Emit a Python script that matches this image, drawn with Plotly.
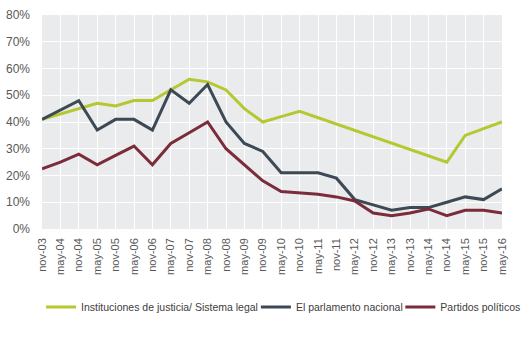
import plotly.graph_objects as go

categories = ["nov-03", "may-04", "nov-04", "may-05", "nov-05", "may-06", "nov-06",
              "may-07", "nov-07", "may-08", "nov-08", "may-09", "nov-09", "may-10",
              "nov-10", "may-11", "nov-11", "may-12", "nov-12", "may-13", "nov-13",
              "may-14", "nov-14", "may-15", "nov-15", "may-16"]

justicia = [41, 43, 45, 47, 46, 48, 48, 52, 56, 55, 52, 45, 40, 42,
            44, None, None, None, None, None, None, None, 25, 35, 37.5, 40]
parlamento = [41, 44.5, 48, 37, 41, 41, 37, 52, 47, 54, 40, 32, 29, 21,
              21, 21, 19, 11, 9, 7, 8, 8, 10, 12, 11, 15]
partidos = [22.5, 25, 28, 24, 27.5, 31, 24, 32, 36, 40, 30, 24, 18, 14,
            13.5, 13, 12, 10.5, 6, 5, 6, 7.5, 5, 7, 7, 6]

names = ["Instituciones de justicia/ Sistema legal", "El parlamento nacional", "Partidos políticos"]
colors = ["#B5C82F", "#3D4A55", "#7B2C3B"]
series = [justicia, parlamento, partidos]
legend_ids = ["legend", "legend2", "legend3"]
legend_x = [-0.002, 0.465, 0.779]

fig = go.Figure()
for name, vals, col, lg in zip(names, series, colors, legend_ids):
    fig.add_trace(go.Scatter(
        x=categories,
        y=[None if v is None else v / 100 for v in vals],
        mode="lines", name=name, connectgaps=True, legend=lg,
        line=dict(color=col, width=3), cliponaxis=False,
    ))

legend_common = dict(orientation="h", xanchor="left", y=-0.3645, yanchor="middle",
                     font=dict(size=10.5, color="#404040"), itemwidth=30,
                     bgcolor="rgba(0,0,0,0)", borderwidth=0)

fig.update_layout(
    width=521, height=337,
    margin=dict(l=42, r=19, t=15, b=108, autoexpand=False),
    paper_bgcolor="white",
    plot_bgcolor="#EAEBED",
    font=dict(family="Liberation Sans, Arial, sans-serif", size=11, color="#595959"),
    showlegend=True,
    legend=dict(x=legend_x[0], **legend_common),
    legend2=dict(x=legend_x[1], **legend_common),
    legend3=dict(x=legend_x[2], **legend_common),
    xaxis=dict(type="category", range=[0, 25], tickangle=-90, showgrid=True,
               gridcolor="white", gridwidth=1, zeroline=False, showline=False,
               ticks="", ticklabelstandoff=6, automargin=False,
               tickfont=dict(size=11, color="#595959")),
    yaxis=dict(range=[0, 0.8], dtick=0.1, tickformat=".0%", showgrid=True,
               gridcolor="white", gridwidth=1, zeroline=False, showline=False,
               ticks="", ticklabelstandoff=11, automargin=False,
               tickfont=dict(size=12, color="#595959")),
)

fig.write_html("out.html")
